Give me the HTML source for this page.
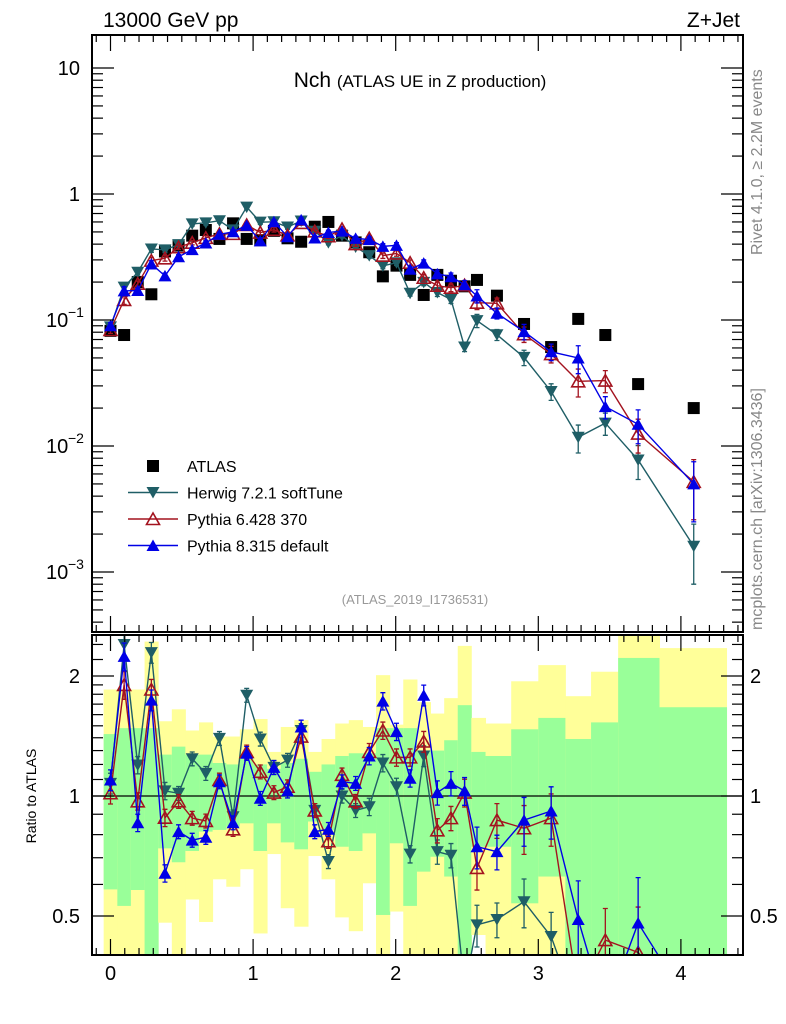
<!DOCTYPE html>
<html><head><meta charset="utf-8">
<style>
html,body{margin:0;padding:0;background:#fff;width:786px;height:1024px;overflow:hidden;position:relative;}
svg{display:block;position:absolute;left:0;top:0;font-family:"Liberation Sans",Arial,sans-serif;}
</style></head>
<body>
<svg id="c" width="786" height="1024" viewBox="0 0 786 1024" xmlns="http://www.w3.org/2000/svg" overflow="hidden">
<defs>
<clipPath id="cm"><rect x="92" y="35" width="651" height="597"/></clipPath>
<clipPath id="cr"><rect x="92" y="635" width="651" height="320"/></clipPath>
</defs>
<g id="bands" clip-path="url(#cr)"></g>
<g id="ratio" clip-path="url(#cr)"></g>
<g id="main" clip-path="url(#cm)"></g>
<g id="axes"></g>
<text x="103" y="27" font-size="21">13000 GeV pp</text>
<text x="740" y="27" font-size="21" text-anchor="end">Z+Jet</text>
<text x="420" y="87" font-size="21" text-anchor="middle">Nch <tspan font-size="17">(ATLAS UE in Z production)</tspan></text>
<text x="415" y="604" font-size="13" fill="#999" text-anchor="middle">(ATLAS_2019_I1736531)</text>
<text transform="translate(762,255) rotate(-90)" font-size="16" fill="#888">Rivet 4.1.0, ≥ 2.2M events</text>
<text transform="translate(762,630) rotate(-90)" font-size="16" fill="#888">mcplots.cern.ch [arXiv:1306.3436]</text>
<text transform="translate(36,796) rotate(-90)" font-size="14" text-anchor="middle">Ratio to ATLAS</text>
<g id="legend"></g>
</svg>
<script>
// ---- data ----
const xCenters=[0,0.0955,0.191,0.2865,0.382,0.4775,0.573,0.6685,0.764,0.8595,0.955,1.0505,1.146,1.2415,1.337,1.4325,1.528,1.6235,1.719,1.8145,1.91,2.0055,2.101,2.1965,2.292,2.3875,2.483,2.57,2.71,2.90,3.09,3.28,3.47,3.70,4.09];
const binEdges=[-0.048,0.048,0.143,0.239,0.334,0.43,0.525,0.621,0.716,0.812,0.907,1.003,1.098,1.194,1.289,1.385,1.48,1.576,1.671,1.767,1.862,1.958,2.053,2.149,2.244,2.34,2.435,2.53,2.63,2.81,3.00,3.19,3.37,3.56,3.85,4.32];
const atlas=[0.082,0.076,0.20,0.16,0.35,0.39,0.467,0.518,0.44,0.585,0.44,0.43,0.51,0.445,0.418,0.55,0.60,0.467,0.413,0.345,0.222,0.27,0.228,0.158,0.228,0.205,0.185,0.208,0.156,0.093,0.061,0.102,0.076,0.031,0.020];
const herwigRatio=[1.076,2.4,1.196,2.29,1.03,1.016,1.24,1.14,1.395,0.887,1.79,1.39,1.18,1.23,1.46,0.92,0.685,1.0,0.92,0.94,1.21,1.055,0.715,1.26,0.725,0.71,0.33,0.475,0.49,0.543,0.444,0.115,0.20,0.25,0.08];
const py6Ratio=[1.016,1.90,0.97,1.85,0.882,0.97,0.88,0.866,1.097,0.825,1.29,1.15,1.02,1.055,1.41,0.92,0.77,1.13,0.97,1.29,1.46,1.25,1.25,1.37,0.82,0.88,1.02,0.66,0.87,0.83,0.88,0.32,0.435,0.405,0.26];
const py8Ratio=[1.097,2.24,0.857,1.74,0.64,0.814,0.775,0.788,1.086,0.857,1.28,0.987,1.18,1.03,1.49,0.814,0.825,1.086,1.076,1.26,1.73,1.45,1.108,1.79,1.02,1.076,1.03,0.746,0.725,0.87,0.917,0.49,0.27,0.48,0.25];
const mcRelErr=[0.06,0.08,0.05,0.06,0.05,0.04,0.04,0.04,0.04,0.04,0.04,0.04,0.04,0.04,0.04,0.04,0.04,0.04,0.04,0.05,0.05,0.05,0.05,0.06,0.07,0.07,0.08,0.12,0.1,0.14,0.15,0.25,0.2,0.3,0.5];
const yellowHi=[1.85,1.85,1.85,2.44,1.54,1.65,1.46,1.53,1.41,1.41,1.47,1.56,1.29,1.49,1.55,1.29,1.39,1.52,1.55,1.49,2.01,1.51,1.96,1.72,1.61,1.76,2.38,1.57,1.52,1.94,2.13,1.78,2.05,2.53,2.35];
const greenHi=[1.43,1.48,1.48,1.48,1.27,1.33,1.27,1.27,1.21,1.20,1.24,1.20,1.17,1.21,1.24,1.15,1.20,1.26,1.28,1.28,1.48,1.48,1.48,1.30,1.30,1.38,1.69,1.29,1.26,1.47,1.57,1.39,1.53,2.22,1.67];
const greenLo=[0.583,0.53,0.581,0.3,0.739,0.682,0.728,0.814,0.822,0.838,0.854,0.728,0.854,0.765,0.735,0.863,0.822,0.746,0.728,0.806,0.503,0.761,0.53,0.646,0.704,0.628,0.3,0.746,0.746,0.538,0.628,0.3,0.3,0.3,0.3];
const yellowLo=[0.3,0.3,0.3,0.3,0.481,0.3,0.55,0.483,0.618,0.592,0.655,0.452,0.715,0.523,0.47,0.707,0.618,0.496,0.458,0.604,0.3,0.513,0.3,0.3,0.3,0.3,0.3,0.448,0.3,0.3,0.3,0.3,0.3,0.3,0.3];
const xTickLabels=["0","1","2","3","4"];
const mainTickLabels=[["10",10],["1",1]];
const ratioTickLabels=[["2",2],["1",1],["0.5",0.5]];
// ---- axes functions ----
const X=u=>110.5+u*142.6;
const YM=v=>194-126*Math.log10(v);
const YR=r=>Math.min(1012,Math.max(600,796-398.6*Math.log10(r)));
const NS="http://www.w3.org/2000/svg";
function mk(tag,attrs,parent){const e=document.createElementNS(NS,tag);for(const k in attrs)e.setAttribute(k,attrs[k]);parent.appendChild(e);return e;}
const gB=document.getElementById('bands'),gR=document.getElementById('ratio'),gM=document.getElementById('main'),gA=document.getElementById('axes'),gL=document.getElementById('legend');
for(let i=0;i<xCenters.length;i++){
  const x0=X(binEdges[i]),x1=X(binEdges[i+1]);
  const y=mk('rect',{x:x0,y:YR(yellowHi[i]),width:x1-x0+0.5,height:YR(yellowLo[i])-YR(yellowHi[i]),fill:'#ffff99'},gB);
  
  
  const g=mk('rect',{x:x0,y:YR(greenHi[i]),width:x1-x0+0.5,height:YR(greenLo[i])-YR(greenHi[i]),fill:'#99ff99'},gB);
  
  
}
const ul=mk('line',{x1:92,x2:743,y1:YR(1),y2:YR(1),stroke:'#000','stroke-width':1.2},gR);


function marker(kind,x,y,color,parent){
  let e;
  if(kind==='sq'){e=mk('rect',{x:x-6,y:y-6,width:12,height:12,fill:'#000'},parent);}
  else if(kind==='down'){e=mk('polygon',{points:`${x-6.5},${y-5.5} ${x+6.5},${y-5.5} ${x},${y+6}`,fill:color},parent);}
  else if(kind==='upOpen'){e=mk('polygon',{points:`${x-6.5},${y+5.5} ${x+6.5},${y+5.5} ${x},${y-6}`,fill:'none',stroke:color,'stroke-width':1.6},parent);}
  else {e=mk('polygon',{points:`${x-6.5},${y+5.5} ${x+6.5},${y+5.5} ${x},${y-6}`,fill:color},parent);}
  return e;
}
const series=[
  {name:'herwig',ratio:herwigRatio,color:'#1f5e66',kind:'down'},
  {name:'pythia6',ratio:py6Ratio,color:'#a3131f',kind:'upOpen'},
  {name:'pythia8',ratio:py8Ratio,color:'#0000e6',kind:'up'}
];
function drawSeries(s,parent,Yf,valFn,prefix){
  const pts=xCenters.map((u,i)=>[X(u),Yf(valFn(i))]);
  const pl=mk('polyline',{points:pts.map(p=>p.join(',')).join(' '),fill:'none',stroke:s.color,'stroke-width':1.4},parent);
  
  
  xCenters.forEach((u,i)=>{
    const v=valFn(i),e=mcRelErr[i];
    const x=X(u),ya=Yf(v*(1+e)),yb=Yf(v*(1-e));
    const eb=mk('path',{d:`M${x},${ya}V${yb}M${x-2.5},${ya}H${x+2.5}M${x-2.5},${yb}H${x+2.5}`,stroke:s.color,'stroke-width':1.3,fill:'none'},parent);
    
    
    const m=marker(s.kind,x,Yf(v),s.color,parent);
    
    
  });
}
series.forEach(s=>drawSeries(s,gR,YR,i=>s.ratio[i],'ratio'));
xCenters.forEach((u,i)=>{
  const m=marker('sq',X(u),YM(atlas[i]),'#000',gM);
  
  
});
series.forEach(s=>drawSeries(s,gM,YM,i=>atlas[i]*s.ratio[i],'main'));
[[92,35,651,597],[92,635,651,320]].forEach((r,k)=>{
  const f=mk('rect',{x:r[0],y:r[1],width:r[2],height:r[3],fill:'none',stroke:'#000','stroke-width':2},gA);
  
  
});
function line(x1,y1,x2,y2,name){const l=mk('line',{x1,y1,x2,y2,stroke:'#000','stroke-width':1.2},gA);}
for(let t=-1;t<=44;t++){
  const u=t/10,x=X(u);if(x<93||x>742)continue;
  const len=(t%10===0)?16:7;
  [[35,1],[632,-1],[635,1],[955,-1]].forEach(([y,d])=>line(x,y,x,y+d*len,'x-tick'));
}
xTickLabels.forEach((lab,i)=>{const t=mk('text',{x:X(i),y:980,'font-size':20,'text-anchor':'middle'},gA);t.textContent=lab;});
for(let d=-4;d<=1;d++){for(let m=1;m<=9;m++){const v=m*Math.pow(10,d),y=YM(v);if(y<36||y>631)continue;const len=m===1?22:11;line(92,y,92+len,y,'y-tick');line(743,y,743-len,y,'y-tick');}}
mainTickLabels.forEach(([lab,v])=>{const t=mk('text',{x:80,y:YM(v)+7,'font-size':20,'text-anchor':'end'},gA);t.textContent=lab;});
[[-1,'10'],[-2,'10'],[-3,'10']].forEach(([e,b])=>{const t=mk('text',{x:46,y:YM(Math.pow(10,e))+7,'font-size':20},gA);t.textContent=b;const s=mk('text',{x:68,y:YM(Math.pow(10,e))-3,'font-size':14},gA);s.textContent='−'+(-e);});
[0.4,0.5,0.6,0.7,0.8,0.9,1,1.1,1.2,1.3,1.4,1.5,1.6,1.7,1.8,1.9,2,2.2,2.4].forEach(r=>{const y=YR(r);const len=(r===0.5||r===1||r===2)?22:11;line(92,y,92+len,y,'ratio-y-tick');line(743,y,743-len,y,'ratio-y-tick');});
ratioTickLabels.forEach(([lab,v])=>{const t=mk('text',{x:80,y:YR(v)+7,'font-size':20,'text-anchor':'end'},gA);t.textContent=lab;const t2=mk('text',{x:750,y:YR(v)+7,'font-size':20},gA);t2.textContent=lab;});
const legendLabels=['ATLAS','Herwig 7.2.1 softTune','Pythia 6.428 370','Pythia 8.315 default'];
legendLabels.forEach((lab,i)=>{
  const y=466+i*26.5;
  if(i===0){const m=marker('sq',153,y,'#000',gL);}
  else{const s=series[i-1];const l=mk('line',{x1:128,x2:178,y1:y,y2:y,stroke:s.color,'stroke-width':1.4},gL);const m=marker(s.kind,153,y,s.color,gL);}
  const t=mk('text',{x:187,y:y+6,'font-size':16},gL);t.textContent=lab;
  
  
});
</script>
</body></html>
